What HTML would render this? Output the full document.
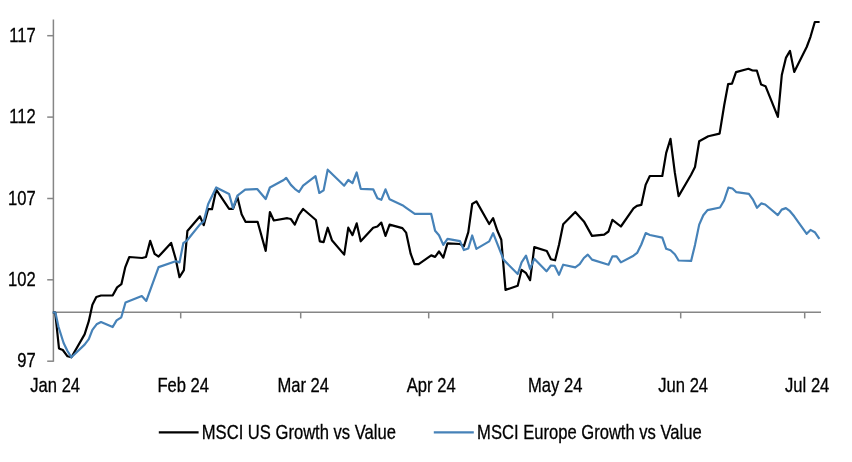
<!DOCTYPE html>
<html><head><meta charset="utf-8"><title>MSCI Growth vs Value</title>
<style>html,body{margin:0;padding:0;background:#fff}svg{display:block}text{font-family:"Liberation Sans",Arial,sans-serif;font-size:20px;fill:#000;stroke:#000;stroke-width:0.3px}</style></head><body>
<svg width="852" height="462" viewBox="0 0 852 462">
<rect width="852" height="462" fill="#fff"/>
<g stroke="#868686" stroke-width="1.5" fill="none">
<line x1="53.4" y1="19.5" x2="53.4" y2="361.8"/>
<line x1="53" y1="312.3" x2="821" y2="312.3"/>
<line x1="47.2" y1="35.7" x2="53.4" y2="35.7"/>
<line x1="47.2" y1="117.1" x2="53.4" y2="117.1"/>
<line x1="47.2" y1="198.5" x2="53.4" y2="198.5"/>
<line x1="47.2" y1="279.8" x2="53.4" y2="279.8"/>
<line x1="47.2" y1="361.2" x2="53.4" y2="361.2"/>
<line x1="180.7" y1="312.3" x2="180.7" y2="318.4"/>
<line x1="300.7" y1="312.3" x2="300.7" y2="318.4"/>
<line x1="428.7" y1="312.3" x2="428.7" y2="318.4"/>
<line x1="552.7" y1="312.3" x2="552.7" y2="318.4"/>
<line x1="680.7" y1="312.3" x2="680.7" y2="318.4"/>
<line x1="804.7" y1="312.3" x2="804.7" y2="318.4"/>
</g>
<polyline points="52.8,312.3 55.2,312.5 59.0,348.5 62.8,350.0 67.5,356.3 71.4,357.3 84.6,334.4 88.8,321.2 92.4,304.8 96.3,297.0 101.0,295.5 112.8,295.3 117.1,287.4 121.4,284.2 125.3,267.1 129.3,257.0 142.1,258.0 146.0,257.0 150.2,240.9 154.6,253.8 158.6,256.6 171.1,242.9 175.6,258.5 179.5,277.2 183.9,270.2 187.4,231.0 200.0,216.3 203.7,225.2 208.1,209.2 212.0,209.2 216.2,189.7 229.1,208.8 233.0,208.8 237.4,197.1 241.6,214.3 245.5,221.8 257.6,221.8 265.7,250.9 269.9,212.0 273.8,220.5 287.3,218.2 290.8,219.0 294.8,224.6 299.0,214.8 303.1,209.0 315.9,220.0 319.8,241.3 323.6,242.1 327.7,227.7 331.9,240.2 344.2,254.6 348.3,227.7 352.5,235.1 356.7,223.4 360.7,241.3 373.2,227.7 377.4,226.5 381.3,222.6 385.5,235.9 389.6,224.6 402.4,228.1 406.1,232.6 410.6,253.5 414.5,264.2 418.7,264.2 431.2,255.4 435.1,256.9 439.0,251.5 443.3,257.6 447.5,243.3 460.0,244.0 463.9,246.2 468.3,232.1 472.2,204.0 476.4,201.4 489.2,224.0 493.1,218.1 497.4,230.8 501.3,239.8 505.5,289.9 517.7,285.7 521.6,269.8 526.1,273.2 530.1,280.2 534.3,247.1 546.8,251.0 550.9,259.2 555.1,260.3 559.0,244.8 563.2,224.2 575.3,212.0 583.9,221.4 592.0,235.9 604.2,234.6 608.5,231.5 612.4,219.8 620.9,226.5 633.5,208.4 636.9,205.8 641.3,204.9 645.6,184.9 649.8,176.0 662.3,176.0 666.2,152.9 670.5,138.9 674.8,172.4 678.6,196.1 691.1,174.8 695.0,167.0 699.2,141.2 708.3,136.2 719.6,133.6 724.2,105.2 728.1,84.2 732.0,83.7 736.0,72.1 748.4,68.8 752.6,70.5 756.9,70.7 761.1,84.5 765.5,86.2 777.9,116.9 781.8,75.0 785.9,57.9 790.0,50.9 794.2,71.9 806.7,47.0 810.5,36.8 814.8,22.0 819.6,22.0" fill="none" stroke="#000" stroke-width="2.2" stroke-linejoin="round" stroke-linecap="butt"/>
<polyline points="52.8,312.3 55.4,312.5 58.4,326.5 63.6,343.0 67.5,351.0 71.4,357.3 84.6,344.6 88.8,339.1 92.4,329.8 96.6,324.3 101.0,322.0 112.7,327.0 116.6,320.4 121.3,317.3 125.5,302.5 141.8,296.0 146.3,300.9 158.6,267.1 175.6,261.2 179.5,262.4 183.3,243.2 187.2,240.3 200.0,224.4 203.7,221.3 208.1,204.2 216.2,187.5 229.1,194.0 233.0,208.1 237.4,195.6 245.2,189.7 257.2,189.0 265.7,199.0 269.9,187.5 283.7,180.0 286.2,177.9 290.9,184.9 294.8,188.8 299.0,192.0 303.1,185.7 315.5,176.1 319.3,193.0 323.6,190.4 327.7,169.7 344.2,185.7 348.3,180.0 352.5,183.1 356.7,172.5 360.7,188.8 373.2,189.3 377.4,198.2 381.3,199.8 385.5,189.3 389.6,199.3 402.4,205.2 406.2,207.9 414.8,213.9 431.2,213.9 435.1,230.8 439.0,235.2 443.3,244.9 447.5,238.8 460.0,241.1 463.9,250.0 468.3,248.5 472.2,235.5 476.4,248.9 489.2,241.4 493.1,233.2 503.7,259.9 517.7,274.0 521.6,262.3 526.0,255.7 530.1,268.9 534.3,258.8 546.5,271.3 550.9,265.5 554.6,265.8 559.0,274.8 563.2,264.7 575.3,267.4 579.7,264.2 583.9,258.0 587.8,254.6 592.0,259.6 608.5,264.7 612.4,256.4 616.6,256.4 620.9,262.4 633.5,255.7 637.1,252.9 641.3,244.5 645.7,233.1 649.9,235.0 662.3,237.6 666.2,248.8 670.5,250.3 674.8,254.2 678.6,260.5 691.1,260.9 695.0,244.9 699.2,224.6 703.3,215.3 707.5,210.1 720.0,207.5 724.1,200.5 728.4,187.7 732.5,188.5 736.4,192.2 748.9,193.8 752.8,199.3 757.0,207.8 761.2,203.4 765.2,204.5 777.8,215.1 781.7,209.6 785.9,208.1 790.0,211.2 794.2,216.3 806.7,233.8 810.5,229.9 814.8,232.2 819.4,238.9" fill="none" stroke="#4682b8" stroke-width="2.2" stroke-linejoin="round" stroke-linecap="butt"/>
<text transform="translate(35.8,41.8) scale(0.83,1)" text-anchor="end">117</text>
<text transform="translate(35.8,123.2) scale(0.83,1)" text-anchor="end">112</text>
<text transform="translate(35.8,204.6) scale(0.83,1)" text-anchor="end">107</text>
<text transform="translate(35.8,285.9) scale(0.83,1)" text-anchor="end">102</text>
<text transform="translate(35.8,367.3) scale(0.83,1)" text-anchor="end">97</text>
<text transform="translate(55.2,391.7) scale(0.83,1)" text-anchor="middle">Jan 24</text>
<text transform="translate(183.2,391.7) scale(0.83,1)" text-anchor="middle">Feb 24</text>
<text transform="translate(303.2,391.7) scale(0.83,1)" text-anchor="middle">Mar 24</text>
<text transform="translate(431.2,391.7) scale(0.83,1)" text-anchor="middle">Apr 24</text>
<text transform="translate(555.2,391.7) scale(0.83,1)" text-anchor="middle">May 24</text>
<text transform="translate(683.2,391.7) scale(0.83,1)" text-anchor="middle">Jun 24</text>
<text transform="translate(807.2,391.7) scale(0.83,1)" text-anchor="middle">Jul 24</text>
<line x1="158.8" y1="432.3" x2="198.6" y2="432.3" stroke="#000" stroke-width="2.2"/>
<text transform="translate(201.8,438.9) scale(0.83,1)">MSCI US Growth vs Value</text>
<line x1="433.8" y1="432.3" x2="473.8" y2="432.3" stroke="#4682b8" stroke-width="2.2"/>
<text transform="translate(477.1,438.9) scale(0.83,1)">MSCI Europe Growth vs Value</text>
</svg></body></html>
